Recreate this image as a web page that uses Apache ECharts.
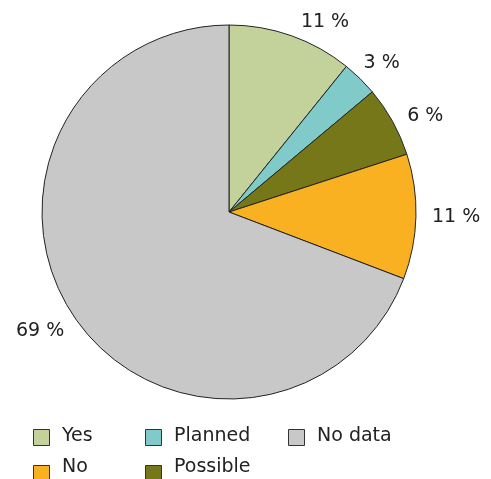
<!DOCTYPE html>
<html><head><meta charset="utf-8">
<script src="https://cdn.jsdelivr.net/npm/echarts@6/dist/echarts.min.js"></script>
<style>html,body{margin:0;padding:0;background:#fff}#c{width:491px;height:479px}</style>
</head><body><div id="c"></div>
<script>
const categories = ['Yes', 'Planned', 'Possible', 'No', 'No data'];
const values = [10.8, 3.1, 6.1, 10.8, 69.2];
const colors = ['#c3d29b', '#80cbca', '#757719', '#f9b122', '#c8c8c8'];
const legendRows = [['Yes', 'Planned', 'No data'], ['No', 'Possible']];

const font = 'DejaVu Sans';
const legendX = [33, 145, 288];
const legendIconY = [429, 465];
const legendTextY = [427, 458];
const legends = [];
legendRows.forEach((row, r) => row.forEach((name, c) => {
  // icon only
  legends.push({
    data: [name], left: legendX[c], top: legendIconY[r],
    itemWidth: 16, itemHeight: 16, icon: 'rect', padding: 0,
    itemStyle: { borderColor: '#333', borderWidth: 1 },
    formatter: () => '',
    textStyle: { fontSize: 1 },
    selectedMode: false
  });
  // text only
  legends.push({
    data: [name], left: legendX[c], top: legendTextY[r],
    itemWidth: 16, itemHeight: 16, icon: 'rect', padding: 0,
    itemStyle: { opacity: 0 },
    textStyle: { fontFamily: font, fontSize: 19, color: '#222', padding: [0, 0, 0, 7] },
    selectedMode: false
  });
}));

const labelVAlign = ['middle', 'bottom', 'middle', 'middle', 'top'];
const labelGap = [14, 8, 11, 11, 7];
const labelGap2 = [0, -7, 0, 0, 0];

const chart = echarts.init(document.getElementById('c'), null, { renderer: 'canvas' });
chart.setOption({
  animation: false,
  color: colors,
  legend: legends,
  series: [{
    type: 'pie',
    center: [229, 212],
    radius: 187,
    startAngle: 90,
    clockwise: true,
    data: categories.map((n, i) => ({
      name: n, value: values[i],
      labelLine: { length: labelGap[i], length2: labelGap2[i] }
    })),
    itemStyle: { borderColor: '#222', borderWidth: 1 },
    label: {
      show: true, position: 'outside', overflow: 'none',
      formatter: p => Math.round(p.value) + ' %',
      fontFamily: font, fontSize: 19, color: '#222'
    },
    labelLayout: p => ({ verticalAlign: labelVAlign[p.dataIndex] }),
    labelLine: { show: false },
    emphasis: { disabled: true }
  }]
});
</script></body></html>
